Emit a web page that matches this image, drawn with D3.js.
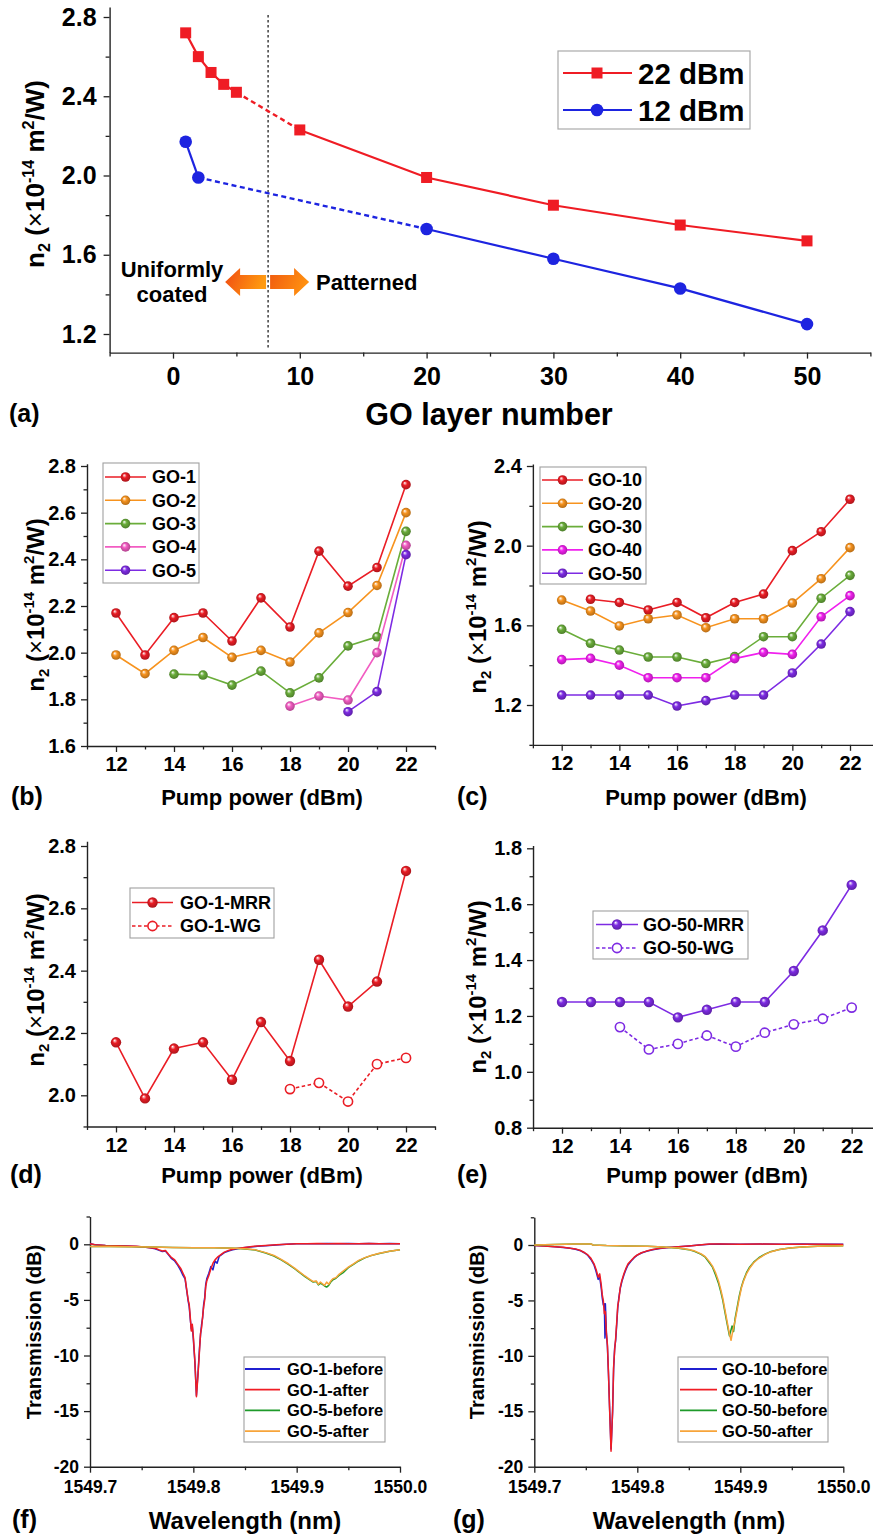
<!DOCTYPE html>
<html><head><meta charset="utf-8">
<script src="https://cdn.jsdelivr.net/npm/d3@7"></script>
<style>
body{margin:0;background:#fff;}
svg{display:block;font-family:"Liberation Sans",Arial,sans-serif;font-weight:bold;}
</style></head><body>
<svg id="chart" width="873" height="1537"></svg>
<script>
// ================= DATA =================
// (a) n2 vs GO layer number
const layers22 = [1, 2, 3, 4, 5, 10, 20, 30, 40, 50];
const n2At22dBm = [2.72, 2.60, 2.52, 2.46, 2.42, 2.23, 1.99, 1.85, 1.75, 1.67];
const layers12 = [1, 2, 20, 30, 40, 50];
const n2At12dBm = [2.17, 1.99, 1.73, 1.58, 1.43, 1.25];
const boundaryLayer = 7.5;
const xTicksA = [0, 10, 20, 30, 40, 50];
const yTicksA = [1.2, 1.6, 2.0, 2.4, 2.8];

// (b)-(e) n2 vs pump power
const pumpPower = [12, 13, 14, 15, 16, 17, 18, 19, 20, 21, 22];
const go1  = [2.17, 1.99, 2.15, 2.17, 2.05, 2.235, 2.11, 2.435, 2.285, 2.365, 2.72];
const go2  = [1.99, 1.91, 2.01, 2.065, 1.98, 2.01, 1.96, 2.085, 2.172, 2.288, 2.60];
const go3  = [null, null, 1.908, 1.904, 1.861, 1.921, 1.828, 1.892, 2.029, 2.068, 2.52];
const go4  = [null, null, null, null, null, null, 1.771, 1.814, 1.797, 2.00, 2.46];
const go5  = [null, null, null, null, null, null, null, null, 1.747, 1.833, 2.42];
const go10 = [null, 1.731, 1.715, 1.677, 1.715, 1.638, 1.715, 1.757, 1.975, 2.07, 2.233];
const go20 = [1.727, 1.672, 1.597, 1.633, 1.652, 1.588, 1.633, 1.633, 1.712, 1.834, 1.99];
const go30 = [1.58, 1.51, 1.476, 1.441, 1.441, 1.408, 1.443, 1.543, 1.543, 1.736, 1.851];
const go40 = [1.428, 1.434, 1.40, 1.337, 1.337, 1.337, 1.433, 1.464, 1.454, 1.643, 1.749];
const go50 = [1.25, 1.25, 1.25, 1.25, 1.195, 1.222, 1.25, 1.25, 1.361, 1.506, 1.669];
const go1WG  = [null, null, null, null, null, null, 2.02, 2.04, 1.98, 2.10, 2.12];
const go50WG = [null, null, 1.16, 1.08, 1.10, 1.13, 1.09, 1.14, 1.17, 1.19, 1.23];
const xTicksPump = [12, 14, 16, 18, 20, 22];
const yTicksB = [1.6, 1.8, 2.0, 2.2, 2.4, 2.6, 2.8];
const yTicksC = [1.2, 1.6, 2.0, 2.4];
const yTicksD = [2.0, 2.2, 2.4, 2.6, 2.8];
const yTicksE = [0.8, 1.0, 1.2, 1.4, 1.6, 1.8];

// (f),(g) transmission spectra  [wavelength nm, dB]
const go1Before = [[1549.700,0.08],[1549.705,-0.05],[1549.715,-0.1],[1549.725,-0.12],[1549.735,-0.15],[1549.745,-0.2],[1549.752,-0.25],[1549.758,-0.32],[1549.763,-0.4],[1549.767,-0.55],[1549.770,-0.65],[1549.773,-0.6],[1549.776,-0.95],[1549.779,-1.3],[1549.782,-1.5],[1549.785,-1.9],[1549.788,-2.4],[1549.790,-2.8],[1549.792,-3.1],[1549.7935,-4.1],[1549.795,-5.1],[1549.796,-5.6],[1549.797,-6.7],[1549.798,-7.6],[1549.799,-7.4],[1549.800,-8.5],[1549.8015,-10.6],[1549.803,-13.6],[1549.8045,-11.6],[1549.806,-9.3],[1549.807,-8.1],[1549.808,-7.2],[1549.809,-6.6],[1549.810,-5.4],[1549.811,-4.8],[1549.812,-3.6],[1549.813,-3.1],[1549.815,-2.6],[1549.817,-2.0],[1549.819,-2.3],[1549.821,-1.5],[1549.823,-1.7],[1549.825,-1.1],[1549.827,-0.95],[1549.830,-0.75],[1549.834,-0.6],[1549.838,-0.5],[1549.843,-0.4],[1549.848,-0.32],[1549.855,-0.25],[1549.862,-0.18],[1549.870,-0.12],[1549.880,-0.06],[1549.890,0.0],[1549.900,0.04],[1549.910,0.06],[1549.920,0.05],[1549.930,0.07],[1549.940,0.05],[1549.950,0.07],[1549.960,0.05],[1549.970,0.07],[1549.980,0.05],[1549.990,0.07],[1550.000,0.05]];
const go1After = [[1549.700,0.05],[1549.705,-0.05],[1549.715,-0.1],[1549.725,-0.12],[1549.735,-0.15],[1549.745,-0.18],[1549.752,-0.25],[1549.758,-0.3],[1549.763,-0.35],[1549.767,-0.5],[1549.770,-0.6],[1549.773,-0.55],[1549.776,-0.9],[1549.779,-1.2],[1549.782,-1.4],[1549.785,-1.8],[1549.788,-2.2],[1549.790,-2.6],[1549.792,-3.0],[1549.7935,-4.0],[1549.795,-5.0],[1549.796,-5.4],[1549.797,-6.5],[1549.798,-7.8],[1549.799,-7.2],[1549.800,-8.3],[1549.8015,-10.5],[1549.803,-13.7],[1549.8045,-11.8],[1549.806,-9.5],[1549.807,-8.0],[1549.808,-7.5],[1549.809,-6.5],[1549.810,-5.6],[1549.811,-5.0],[1549.812,-3.8],[1549.813,-3.3],[1549.815,-2.8],[1549.817,-2.2],[1549.819,-1.7],[1549.821,-1.4],[1549.824,-1.1],[1549.827,-0.9],[1549.830,-0.7],[1549.834,-0.55],[1549.838,-0.45],[1549.843,-0.35],[1549.848,-0.3],[1549.855,-0.22],[1549.862,-0.15],[1549.870,-0.1],[1549.880,-0.05],[1549.890,0.0],[1549.900,0.05],[1549.910,0.04],[1549.920,0.08],[1549.930,0.05],[1549.940,0.08],[1549.950,0.05],[1549.960,0.06],[1549.970,0.08],[1549.980,0.05],[1549.990,0.06],[1550.000,0.05]];
const go5Before = [[1549.700,-0.2],[1549.720,-0.2],[1549.740,-0.22],[1549.760,-0.25],[1549.780,-0.28],[1549.800,-0.3],[1549.820,-0.32],[1549.840,-0.36],[1549.850,-0.42],[1549.860,-0.52],[1549.870,-0.78],[1549.878,-1.05],[1549.885,-1.4],[1549.892,-1.8],[1549.898,-2.2],[1549.903,-2.55],[1549.908,-2.9],[1549.912,-3.15],[1549.916,-3.4],[1549.919,-3.35],[1549.921,-3.65],[1549.923,-3.5],[1549.925,-3.6],[1549.927,-3.75],[1549.929,-3.85],[1549.931,-3.7],[1549.933,-3.4],[1549.935,-3.2],[1549.938,-3.05],[1549.941,-2.8],[1549.945,-2.55],[1549.950,-2.1],[1549.955,-1.8],[1549.960,-1.5],[1549.966,-1.22],[1549.972,-1.02],[1549.980,-0.82],[1549.990,-0.63],[1550.000,-0.5]];
const go5After = [[1549.700,-0.2],[1549.720,-0.2],[1549.740,-0.22],[1549.760,-0.25],[1549.780,-0.28],[1549.800,-0.3],[1549.820,-0.32],[1549.840,-0.35],[1549.850,-0.4],[1549.860,-0.5],[1549.870,-0.75],[1549.878,-1.0],[1549.885,-1.35],[1549.892,-1.75],[1549.898,-2.15],[1549.903,-2.5],[1549.908,-2.85],[1549.912,-3.1],[1549.916,-3.35],[1549.919,-3.3],[1549.921,-3.6],[1549.923,-3.4],[1549.925,-3.55],[1549.927,-3.7],[1549.929,-3.4],[1549.931,-3.6],[1549.933,-3.3],[1549.935,-3.1],[1549.938,-3.0],[1549.941,-2.7],[1549.945,-2.4],[1549.950,-2.05],[1549.955,-1.75],[1549.960,-1.45],[1549.966,-1.2],[1549.972,-1.0],[1549.980,-0.8],[1549.990,-0.62],[1550.000,-0.5]];
const go10Before = [[1549.700,-0.05],[1549.710,-0.1],[1549.720,-0.15],[1549.728,-0.22],[1549.735,-0.3],[1549.740,-0.38],[1549.745,-0.52],[1549.749,-0.72],[1549.752,-0.95],[1549.755,-1.3],[1549.758,-1.8],[1549.760,-2.4],[1549.762,-3.1],[1549.7635,-2.9],[1549.765,-3.9],[1549.766,-4.8],[1549.767,-5.4],[1549.768,-5.3],[1549.7686,-8.4],[1549.769,-5.3],[1549.770,-7.9],[1549.771,-9.2],[1549.772,-11.6],[1549.773,-14.4],[1549.7745,-18.4],[1549.776,-15.1],[1549.777,-11.2],[1549.778,-9.3],[1549.779,-8.6],[1549.780,-7.2],[1549.781,-5.7],[1549.782,-4.8],[1549.7835,-3.9],[1549.785,-3.3],[1549.787,-2.7],[1549.789,-2.2],[1549.791,-1.8],[1549.794,-1.45],[1549.797,-1.15],[1549.800,-0.92],[1549.804,-0.72],[1549.809,-0.56],[1549.815,-0.42],[1549.822,-0.31],[1549.830,-0.23],[1549.840,-0.15],[1549.850,-0.08],[1549.860,0.0],[1549.870,0.07],[1549.880,0.09],[1549.900,0.06],[1549.920,0.08],[1549.940,0.06],[1549.960,0.08],[1549.980,0.06],[1550.000,0.06]];
const go10After = [[1549.700,-0.05],[1549.710,-0.1],[1549.720,-0.15],[1549.728,-0.2],[1549.735,-0.3],[1549.740,-0.35],[1549.745,-0.5],[1549.749,-0.7],[1549.752,-0.9],[1549.755,-1.2],[1549.758,-1.7],[1549.760,-2.2],[1549.762,-2.9],[1549.7635,-2.6],[1549.765,-3.6],[1549.766,-4.5],[1549.767,-5.0],[1549.768,-6.2],[1549.769,-6.0],[1549.770,-8.0],[1549.771,-9.0],[1549.772,-11.5],[1549.773,-14.5],[1549.7745,-18.6],[1549.776,-15.0],[1549.777,-11.0],[1549.778,-9.5],[1549.779,-8.4],[1549.780,-7.0],[1549.781,-5.5],[1549.782,-5.0],[1549.7835,-3.8],[1549.785,-3.2],[1549.787,-2.6],[1549.789,-2.1],[1549.791,-1.7],[1549.794,-1.4],[1549.797,-1.1],[1549.800,-0.9],[1549.804,-0.7],[1549.809,-0.55],[1549.815,-0.4],[1549.822,-0.3],[1549.830,-0.22],[1549.840,-0.15],[1549.850,-0.08],[1549.860,0.0],[1549.870,0.08],[1549.880,0.08],[1549.900,0.06],[1549.920,0.08],[1549.940,0.06],[1549.960,0.07],[1549.980,0.06],[1550.000,0.05]];
const go50Before = [[1549.700,0.0],[1549.720,0.05],[1549.740,0.08],[1549.755,0.1],[1549.757,0.0],[1549.770,-0.05],[1549.790,-0.08],[1549.810,-0.12],[1549.825,-0.18],[1549.840,-0.3],[1549.850,-0.42],[1549.856,-0.6],[1549.862,-0.85],[1549.866,-1.1],[1549.870,-1.6],[1549.873,-2.0],[1549.876,-2.7],[1549.879,-3.5],[1549.881,-4.2],[1549.883,-5.0],[1549.885,-6.0],[1549.887,-7.0],[1549.8895,-8.2],[1549.892,-7.3],[1549.8935,-7.8],[1549.895,-6.6],[1549.897,-5.6],[1549.899,-4.6],[1549.901,-3.8],[1549.903,-3.2],[1549.906,-2.5],[1549.909,-2.0],[1549.913,-1.55],[1549.918,-1.15],[1549.924,-0.82],[1549.930,-0.58],[1549.938,-0.4],[1549.948,-0.27],[1549.960,-0.17],[1549.975,-0.11],[1549.990,-0.08],[1550.000,-0.06]];
const go50After = [[1549.700,0.0],[1549.720,0.05],[1549.740,0.08],[1549.755,0.1],[1549.757,0.0],[1549.770,-0.05],[1549.790,-0.08],[1549.810,-0.12],[1549.825,-0.18],[1549.840,-0.28],[1549.850,-0.4],[1549.856,-0.55],[1549.862,-0.8],[1549.866,-1.05],[1549.870,-1.5],[1549.873,-1.9],[1549.876,-2.5],[1549.879,-3.3],[1549.881,-4.0],[1549.883,-4.8],[1549.885,-5.8],[1549.887,-6.8],[1549.889,-7.8],[1549.891,-8.6],[1549.893,-7.6],[1549.895,-6.8],[1549.897,-5.8],[1549.899,-4.8],[1549.901,-3.9],[1549.903,-3.3],[1549.906,-2.6],[1549.909,-2.1],[1549.913,-1.6],[1549.918,-1.2],[1549.924,-0.85],[1549.930,-0.6],[1549.938,-0.4],[1549.948,-0.28],[1549.960,-0.18],[1549.975,-0.12],[1549.990,-0.08],[1550.000,-0.06]];
const xTicksWl = [1549.7, 1549.8, 1549.9, 1550.0];
const yTicksT = [-20, -15, -10, -5, 0];

// ================= STYLE =================
const C = {red:"#ea1d25", orange:"#f7931e", green:"#6aad3a", pink:"#f25cc2", magenta:"#f020ee",
           purple:"#7d2be3", blueA:"#1d24e0", redA:"#ef1c24",
           sBlue:"#2020d0", sRed:"#f01c24", sGreen:"#1e9a2a", sOrange:"#f7a43a"};
const AXIS = "#222";
const svg = d3.select("#chart");
const defs = svg.append("defs");

function sphereGrad(id, color){
  const g = defs.append("radialGradient").attr("id", id)
    .attr("cx","50%").attr("cy","50%").attr("r","55%").attr("fx","35%").attr("fy","30%");
  g.append("stop").attr("offset","0%").attr("stop-color","#ffffff");
  g.append("stop").attr("offset","40%").attr("stop-color", color);
  g.append("stop").attr("offset","100%").attr("stop-color", d3.color(color).darker(1.0));
}
Object.entries(C).forEach(([k,v]) => sphereGrad("sph-"+k, v));

function arrowGradient(id, leftColor, rightColor){
  const gr = defs.append("linearGradient").attr("id", id).attr("x1","0").attr("y1","0").attr("x2","1").attr("y2","0.3");
  gr.append("stop").attr("offset","0%").attr("stop-color", leftColor);
  gr.append("stop").attr("offset","100%").attr("stop-color", rightColor);
}
arrowGradient("arrowL", "#f04a12", "#ff9a10");
arrowGradient("arrowR", "#f05a10", "#ff9010");

// linear scale from two reference points, with axis extent lo..hi
function refScale(v1, p1, v2, p2, lo, hi){
  const s = d3.scaleLinear().domain([v1, v2]).range([p1, p2]);
  return d3.scaleLinear().domain([lo, hi]).range([s(lo), s(hi)]);
}

function styleAxis(sel, fs){
  sel.attr("font-family", null).attr("font-size", null);
  sel.selectAll("path.domain").attr("stroke", AXIS).attr("stroke-width", 1.4);
  sel.selectAll(".tick line").attr("stroke", AXIS).attr("stroke-width", 1.3);
  sel.selectAll("text").attr("fill","#000").attr("font-size", fs).attr("font-weight","bold");
}

function drawAxes(g, x, y, o){
  const yb = y.range()[0];
  const xl = x.range()[0];
  g.append("g").attr("transform",`translate(0,${yb})`)
    .call(d3.axisBottom(x).tickValues(o.xMinor).tickSize(o.minorLen||3.5).tickSizeOuter(0).tickFormat(""))
    .call(s => { s.select(".domain").remove(); styleAxis(s, o.fs); });
  g.append("g").attr("transform",`translate(${xl},0)`)
    .call(d3.axisLeft(y).tickValues(o.yMinor).tickSize(o.minorLen||3.5).tickSizeOuter(0).tickFormat(""))
    .call(s => { s.select(".domain").remove(); styleAxis(s, o.fs); });
  g.append("g").attr("transform",`translate(0,${yb})`)
    .call(d3.axisBottom(x).tickValues(o.xMajor).tickSize(6).tickSizeOuter(0).tickPadding(o.xPad).tickFormat(o.xFmt))
    .call(s => styleAxis(s, o.fs));
  g.append("g").attr("transform",`translate(${xl},0)`)
    .call(d3.axisLeft(y).tickValues(o.yMajor).tickSize(6).tickSizeOuter(0).tickPadding(o.yPad).tickFormat(o.yFmt))
    .call(s => styleAxis(s, o.fs));
}

function n2Label(g, cx, cy, fs){
  const t = g.append("text").attr("transform",`translate(${cx},${cy}) rotate(-90)`)
    .attr("text-anchor","middle").attr("font-size", fs).attr("font-weight","bold");
  const sub = fs*0.62;
  t.append("tspan").text("n");
  t.append("tspan").attr("font-size", sub).attr("dy", fs*0.22).text("2");
  t.append("tspan").attr("dy", -fs*0.22).text(" (");
  t.append("tspan").attr("font-weight","normal").text("\u00D7");
  t.append("tspan").text("10");
  t.append("tspan").attr("font-size", sub).attr("dy", -fs*0.4).text("-14");
  t.append("tspan").attr("dy", fs*0.4).text(" m");
  t.append("tspan").attr("font-size", sub).attr("dy", -fs*0.4).text("2");
  t.append("tspan").attr("dy", fs*0.4).text("/W)");
}

function plainText(g, x, y, txt, fs, anchor, rot){
  const t = g.append("text").attr("font-size", fs).attr("font-weight","bold").attr("text-anchor", anchor||"start");
  if (rot) t.attr("transform",`translate(${x},${y}) rotate(${rot})`);
  else t.attr("x", x).attr("y", y);
  t.text(txt);
  return t;
}

const fmt1 = d3.format(".1f");
const fmtInt = d => String(d);

// ================= PANEL (a) =================
{
  const g = svg.append("g");
  const x = refScale(0, 173, 50, 807, -5, 55);
  const y = refScale(1.2, 334, 2.8, 17, 1.106, 2.85);
  drawAxes(g, x, y, {xMajor:xTicksA, xMinor:[-5,5,15,25,35,45,55], yMajor:yTicksA, yMinor:[1.4,1.8,2.2,2.6],
    xFmt:fmtInt, yFmt:fmt1, xPad:9, yPad:7, fs:25, minorLen:4});
  g.append("line").attr("x1", x(boundaryLayer)).attr("x2", x(boundaryLayer)).attr("y1", 15).attr("y2", 348)
    .attr("stroke","#333").attr("stroke-width",1.4).attr("stroke-dasharray","2.5,2.5");
  const line = d3.line().x(d=>x(d[0])).y(d=>y(d[1]));
  function seriesA(xs, ys, color, dashFrom){
    const pts = xs.map((v,i)=>[v, ys[i]]);
    g.append("path").attr("d", line(pts.slice(0, dashFrom+1))).attr("fill","none").attr("stroke",color).attr("stroke-width",2.2);
    g.append("path").attr("d", line(pts.slice(dashFrom, dashFrom+2))).attr("fill","none").attr("stroke",color).attr("stroke-width",2.4).attr("stroke-dasharray","5,3.5");
    g.append("path").attr("d", line(pts.slice(dashFrom+1))).attr("fill","none").attr("stroke",color).attr("stroke-width",2.2);
    return pts;
  }
  const p22 = seriesA(layers22, n2At22dBm, C.redA, 4);
  const p12 = seriesA(layers12, n2At12dBm, C.blueA, 1);
  g.selectAll(".sq").data(p22).join("rect").attr("x", d=>x(d[0])-5.5).attr("y", d=>y(d[1])-5.5)
    .attr("width",11).attr("height",11).attr("fill",C.redA);
  g.selectAll(".ci").data(p12).join("circle").attr("cx", d=>x(d[0])).attr("cy", d=>y(d[1])).attr("r",6.3).attr("fill",C.blueA);
  // arrows
  const bx = x(boundaryLayer), ay = 282;
  function arrow(tail, tip, fillId){
    const dir = Math.sign(tip - tail), hl = 15, sh = 7, hh = 14;
    const neck = tip - dir*hl;
    const pts = [[tail, ay-sh],[neck, ay-sh],[neck, ay-hh],[tip, ay],[neck, ay+hh],[neck, ay+sh],[tail, ay+sh]];
    g.append("path").attr("d", d3.line()(pts)+"Z").attr("fill",`url(#${fillId})`);
  }
  arrow(bx-2, bx-43, "arrowL");
  arrow(bx+2, bx+41, "arrowR");
  plainText(g, 172, 277, "Uniformly", 22, "middle");
  plainText(g, 172, 302, "coated", 22, "middle");
  plainText(g, 316, 290, "Patterned", 22, "start");
  // legend
  const lg = g.append("g");
  lg.append("rect").attr("x",558).attr("y",51).attr("width",192).attr("height",78).attr("fill","#fff").attr("stroke","#aaa").attr("stroke-width",1.2);
  lg.append("line").attr("x1",563).attr("x2",632).attr("y1",73).attr("y2",73).attr("stroke",C.redA).attr("stroke-width",2.2);
  lg.append("rect").attr("x",597-5.5).attr("y",73-5.5).attr("width",11).attr("height",11).attr("fill",C.redA);
  lg.append("line").attr("x1",563).attr("x2",632).attr("y1",110).attr("y2",110).attr("stroke",C.blueA).attr("stroke-width",2.2);
  lg.append("circle").attr("cx",597).attr("cy",110).attr("r",6.3).attr("fill",C.blueA);
  plainText(lg, 638, 84, "22 dBm", 29.5);
  plainText(lg, 638, 121, "12 dBm", 29.5);
  n2Label(g, 44, 174, 26);
  plainText(g, 489, 425, "GO layer number", 30.5, "middle");
  plainText(g, 9, 422, "(a)", 25);
}

// ================= PANELS (b)-(e) =================
function pumpPanel(cfg){
  const g = svg.append("g");
  const x = refScale(12, cfg.x12, 22, cfg.x22, 11, 23);
  const y = refScale(cfg.yv1, cfg.yp1, cfg.yv2, cfg.yp2, cfg.ylo, cfg.yhi);
  const minorY = [];
  for (let v = cfg.ylo; v <= cfg.yhi + 1e-9; v += cfg.minorStep) {
    const r = Math.round(v*1000)/1000;
    if (!cfg.yMajor.some(m => Math.abs(m-r) < 1e-6)) minorY.push(r);
  }
  drawAxes(g, x, y, {xMajor:xTicksPump, xMinor:[11,13,15,17,19,21,23], yMajor:cfg.yMajor, yMinor:minorY,
    xFmt:fmtInt, yFmt:fmt1, xPad:5, yPad:5, fs:20, minorLen:3.5});
  const line = d3.line().defined(d=>d[1]!=null).x(d=>x(d[0])).y(d=>y(d[1]));
  cfg.series.forEach(s => {
    const pts = pumpPower.map((p,i)=>[p, s.values[i]]);
    g.append("path").attr("d", line(pts)).attr("fill","none").attr("stroke", C[s.color])
      .attr("stroke-width",1.6).attr("stroke-dasharray", s.open ? "3.5,2.5" : null);
    g.selectAll(null).data(pts.filter(d=>d[1]!=null)).join("circle")
      .attr("cx", d=>x(d[0])).attr("cy", d=>y(d[1])).attr("r", s.open ? 4.6 : cfg.r)
      .attr("fill", s.open ? "#fff" : `url(#sph-${s.color})`)
      .attr("stroke", s.open ? C[s.color] : "none").attr("stroke-width", 1.6);
  });
  const L = cfg.legend;
  const lg = g.append("g");
  lg.append("rect").attr("x",L.x).attr("y",L.y).attr("width",L.w).attr("height",L.h)
    .attr("fill","#fff").attr("stroke","#a0a0a0").attr("stroke-width",1.1);
  cfg.series.forEach((s,i) => {
    const yy = L.y0 + i*L.dy;
    lg.append("line").attr("x1",L.lx1).attr("x2",L.lx2).attr("y1",yy).attr("y2",yy)
      .attr("stroke",C[s.color]).attr("stroke-width",1.6).attr("stroke-dasharray", s.open ? "3.5,2.5" : null);
    lg.append("circle").attr("cx",(L.lx1+L.lx2)/2).attr("cy",yy).attr("r", s.open ? 4.6 : cfg.r)
      .attr("fill", s.open ? "#fff" : `url(#sph-${s.color})`)
      .attr("stroke", s.open ? C[s.color] : "none").attr("stroke-width",1.6);
    plainText(lg, L.tx, yy + L.fs*0.36, s.name, L.fs);
  });
  n2Label(g, cfg.ylabX, cfg.ylabY, 24);
  plainText(g, cfg.titleX, cfg.titleY, "Pump power (dBm)", 22, "middle");
  plainText(g, cfg.tagX, cfg.titleY, cfg.tag, 25);
}

pumpPanel({tag:"(b)", x12:116, x22:406, yv1:1.6, yp1:746, yv2:2.8, yp2:466, ylo:1.6, yhi:2.81, yMajor:yTicksB, minorStep:0.1, r:4.8,
  series:[{name:"GO-1",values:go1,color:"red"},{name:"GO-2",values:go2,color:"orange"},{name:"GO-3",values:go3,color:"green"},
          {name:"GO-4",values:go4,color:"pink"},{name:"GO-5",values:go5,color:"purple"}],
  legend:{x:103,y:463,w:96,h:120,y0:477,dy:23.3,lx1:105,lx2:146,tx:152,fs:18},
  ylabX:44, ylabY:605, titleX:262, titleY:805, tagX:11});

pumpPanel({tag:"(c)", x12:561.7, x22:850, yv1:1.2, yp1:705, yv2:2.4, yp2:466, ylo:1.0, yhi:2.41, yMajor:yTicksC, minorStep:0.2, r:4.8,
  series:[{name:"GO-10",values:go10,color:"red"},{name:"GO-20",values:go20,color:"orange"},{name:"GO-30",values:go30,color:"green"},
          {name:"GO-40",values:go40,color:"magenta"},{name:"GO-50",values:go50,color:"purple"}],
  legend:{x:540,y:467,w:106,h:117,y0:480,dy:23.3,lx1:542,lx2:583,tx:588,fs:18},
  ylabX:486, ylabY:607, titleX:706, titleY:805, tagX:457});

pumpPanel({tag:"(d)", x12:116, x22:406, yv1:2.0, yp1:1095.3, yv2:2.8, yp2:846, ylo:1.9, yhi:2.815, yMajor:yTicksD, minorStep:0.1, r:5.2,
  series:[{name:"GO-1-MRR",values:go1,color:"red"},{name:"GO-1-WG",values:go1WG,color:"red",open:true}],
  legend:{x:130,y:888,w:144,h:50,y0:902.5,dy:23.5,lx1:132,lx2:173,tx:180,fs:18},
  ylabX:44, ylabY:980, titleX:262, titleY:1183, tagX:10});

pumpPanel({tag:"(e)", x12:562, x22:851.7, yv1:0.8, yp1:1127.7, yv2:1.8, yp2:848.3, ylo:0.8, yhi:1.81, yMajor:yTicksE, minorStep:0.1, r:5.2,
  series:[{name:"GO-50-MRR",values:go50,color:"purple"},{name:"GO-50-WG",values:go50WG,color:"purple",open:true}],
  legend:{x:593,y:911,w:155,h:48,y0:924.5,dy:23.5,lx1:596,lx2:638,tx:643,fs:18},
  ylabX:486, ylabY:987, titleX:707, titleY:1183, tagX:457});

// ================= PANELS (f),(g) =================
function specPanel(cfg){
  const g = svg.append("g");
  const x = refScale(1549.7, cfg.x0, 1550.0, cfg.x1, 1549.7, 1550.0);
  const y = refScale(0, cfg.y0, -20, cfg.y20, -20, 2.5);
  drawAxes(g, x, y, {xMajor:xTicksWl, xMinor:[1549.75,1549.85,1549.95], yMajor:yTicksT,
    yMinor:[-17.5,-12.5,-7.5,-2.5,2.5], xFmt:fmt1, yFmt:fmtInt, xPad:8, yPad:5, fs:17.5, minorLen:3.5});
  const line = d3.line().x(d=>x(d[0])).y(d=>y(d[1]));
  cfg.series.forEach(s => {
    g.append("path").attr("d", line(s.values)).attr("fill","none").attr("stroke", C[s.color]).attr("stroke-width",1.5).attr("stroke-linejoin","round");
  });
  const L = cfg.legend;
  const lg = g.append("g");
  lg.append("rect").attr("x",L.x).attr("y",L.y).attr("width",L.w).attr("height",L.h)
    .attr("fill","#fff").attr("stroke","#a0a0a0").attr("stroke-width",1.1);
  cfg.legendOrder.forEach((s,i) => {
    const yy = L.y0 + i*L.dy;
    lg.append("line").attr("x1",L.lx1).attr("x2",L.lx2).attr("y1",yy).attr("y2",yy).attr("stroke",C[s.color]).attr("stroke-width",1.8);
    plainText(lg, L.tx, yy + 6, s.name, 16.5);
  });
  plainText(g, cfg.ylabX, cfg.ylabY, "Transmission (dB)", 20, "middle", -90);
  plainText(g, cfg.titleX, 1529, "Wavelength (nm)", 24, "middle");
  plainText(g, cfg.tagX, 1528, cfg.tag, 25);
}

const fSeries = [{name:"GO-1-before",values:go1Before,color:"sBlue"},{name:"GO-1-after",values:go1After,color:"sRed"},
                 {name:"GO-5-before",values:go5Before,color:"sGreen"},{name:"GO-5-after",values:go5After,color:"sOrange"}];
specPanel({tag:"(f)", x0:90, x1:400, y0:1244.3, y20:1466.7, series:fSeries, legendOrder:fSeries,
  legend:{x:244,y:1357,w:141,h:85,y0:1369,dy:20.7,lx1:245,lx2:280,tx:287},
  ylabX:41, ylabY:1332, titleX:245, tagX:12});

const gSeries = [{name:"GO-10-before",values:go10Before,color:"sBlue"},{name:"GO-10-after",values:go10After,color:"sRed"},
                 {name:"GO-50-before",values:go50Before,color:"sGreen"},{name:"GO-50-after",values:go50After,color:"sOrange"}];
specPanel({tag:"(g)", x0:534.3, x1:843.3, y0:1245, y20:1466.7, series:gSeries, legendOrder:gSeries,
  legend:{x:678,y:1357,w:150,h:85,y0:1369,dy:20.7,lx1:680,lx2:717,tx:722},
  ylabX:484, ylabY:1332, titleX:689, tagX:453});
</script>
</body></html>
